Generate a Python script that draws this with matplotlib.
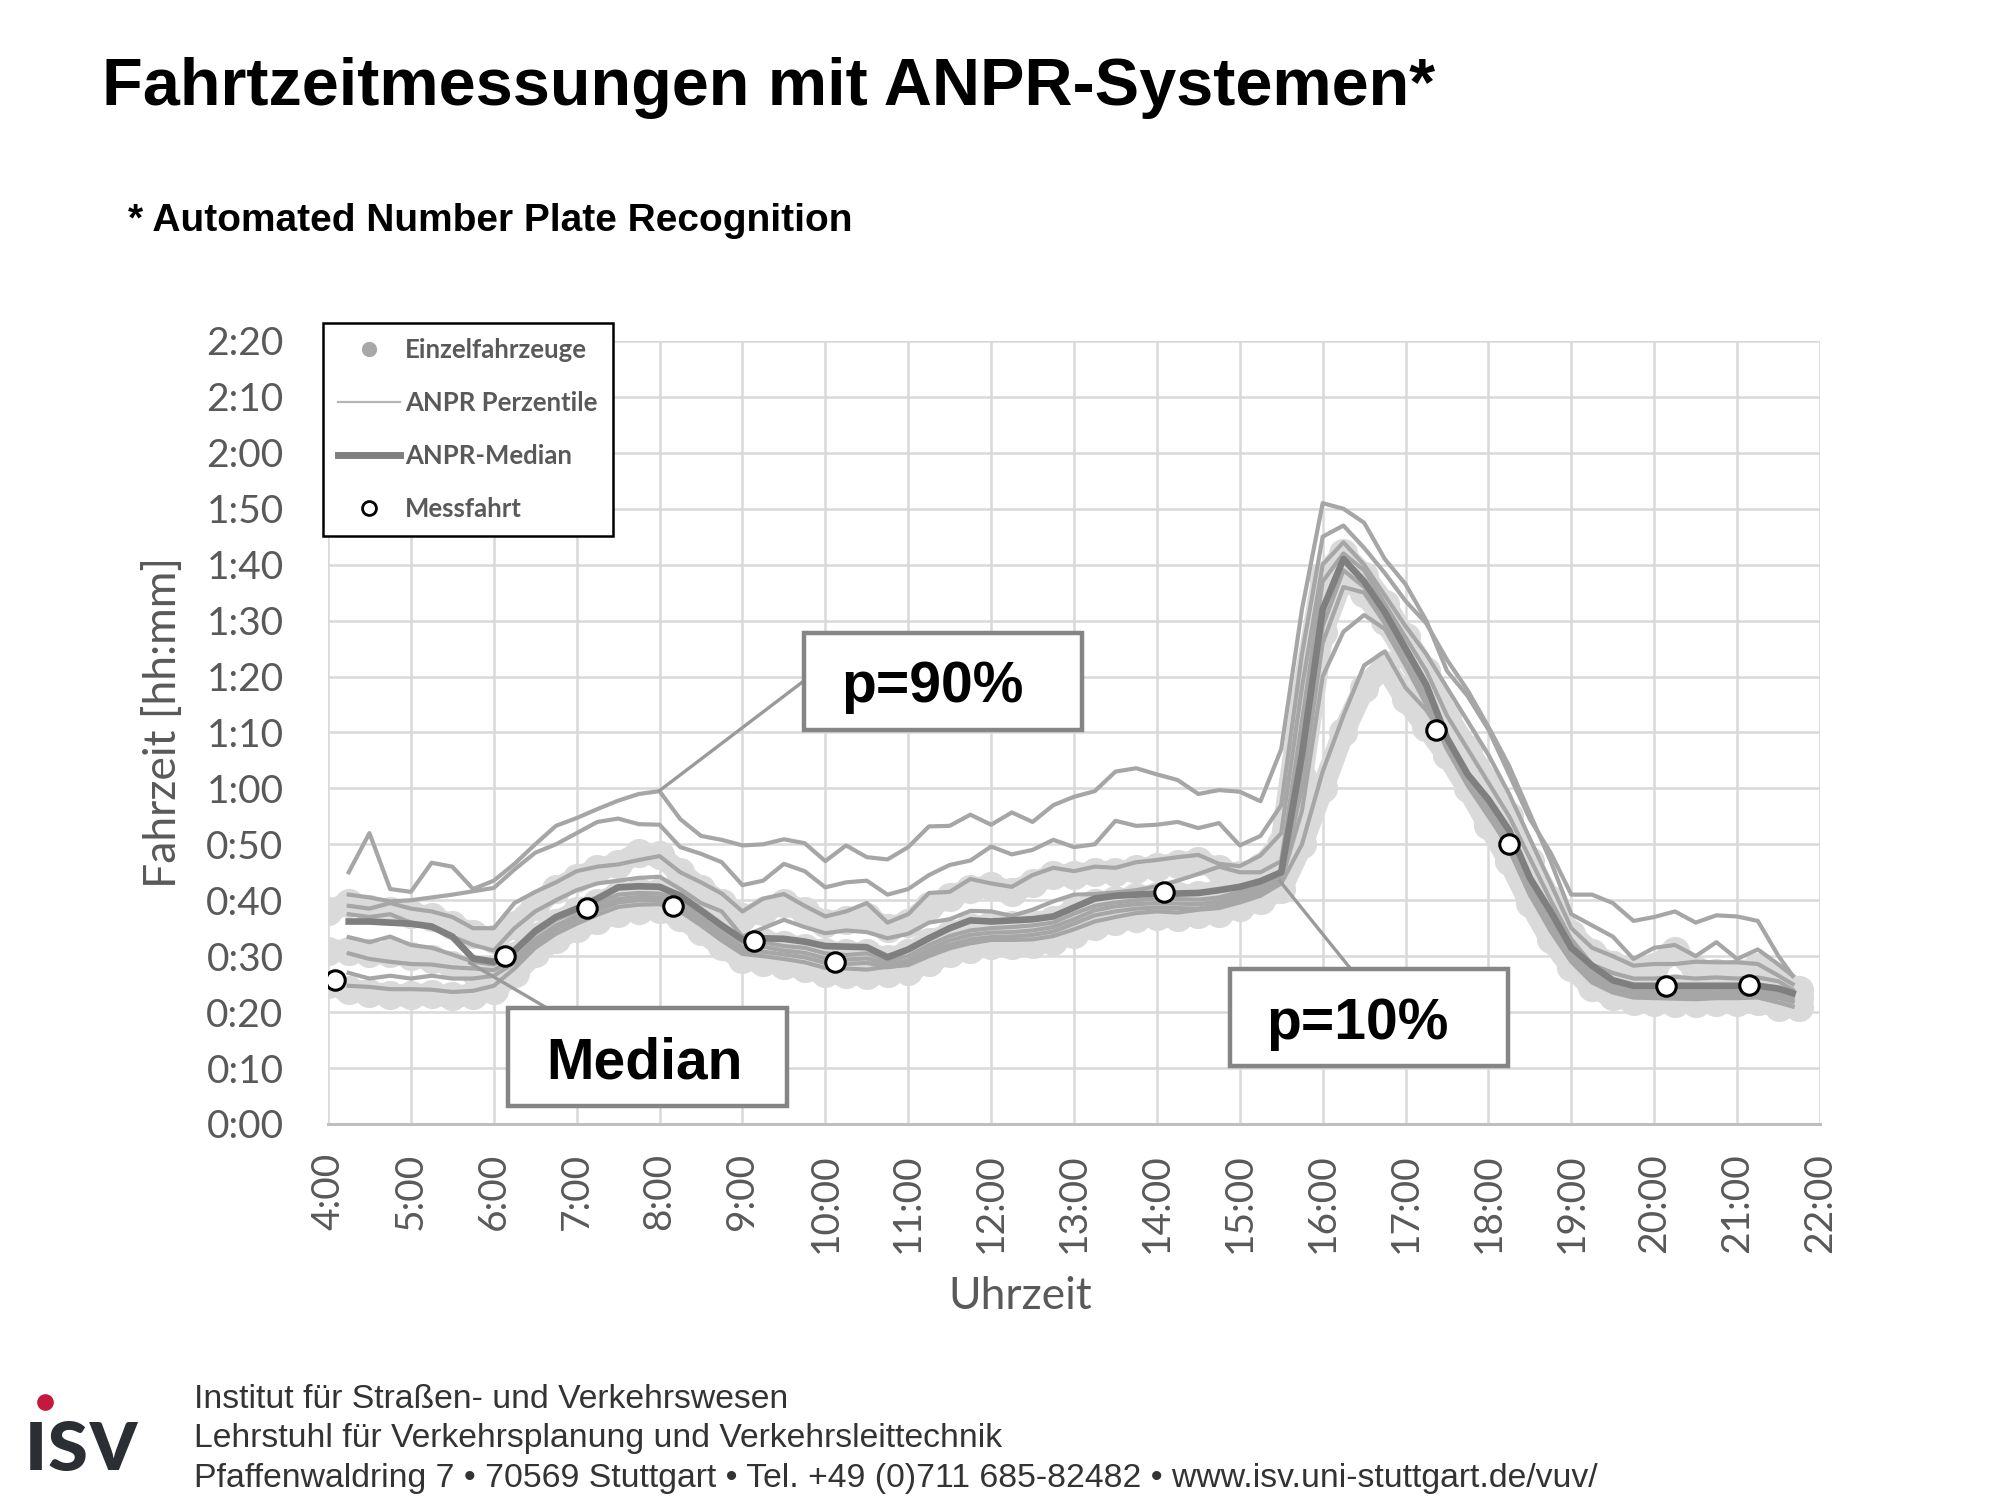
import numpy as np
import matplotlib
matplotlib.use("Agg")
import matplotlib.pyplot as plt
from matplotlib.lines import Line2D
from matplotlib.patches import Rectangle

# Zeitraster der ANPR-Auswertung (Stunden): 4:15 .. 21:30 alle 15 min, Endpunkt 21:40
zeit = np.append(np.arange(4.25, 21.51, 0.25), 21.67)

# Fahrzeiten in Minuten
p90 = [45, 52, 42, 41.5, 46.7, 46, 42, 43.5, 46.5, 50,
       53.3, 54.7, 56.3, 57.8, 59, 59.5, 54.5, 51.5, 50.8, 49.8,
       50, 50.9, 50.2, 47, 49.8, 47.7, 47.3, 49.5, 53.2, 53.3,
       55.3, 53.5, 55.7, 54, 57, 58.5, 59.5, 63, 63.6, 62.5,
       61.5, 59, 59.7, 59.4, 57.7, 67, 92, 111, 110, 107.5,
       101, 96.5, 90, 81, 76.5, 70.5, 62.5, 54.5, 48.5, 41,
       41, 39.5, 36.3, 37, 38, 36, 37.3, 37.1, 36.3, 30,
       26.5]
p80 = [41, 40.5, 39.8, 40, 40.5, 41, 41.6, 42.2, 45.5, 48.5,
       50, 52, 54, 54.6, 53.6, 53.5, 49.5, 48.3, 46.8, 42.7,
       43.5, 46.5, 45.2, 42.3, 43.2, 43.5, 41, 42, 44.5, 46.3,
       47.1, 49.6, 48.2, 49, 50.8, 49.5, 50, 54.2, 53.3, 53.5,
       54, 52.9, 53.8, 49.8, 51.5, 57, 84, 105, 107, 103,
       98.5, 93.5, 89.5, 83, 77.5, 71, 64, 55.5, 47, 37.5,
       35.5, 33.5, 29.5, 31.5, 32, 30, 32.5, 29.5, 31.2, 28.5,
       26.5]
p70 = [39, 38.5, 39.5, 38.5, 38, 37, 35, 35, 39.5, 41.5,
       43.2, 45.2, 46, 46.4, 47.2, 47.9, 45, 43.2, 41.2, 38,
       40.3, 41.1, 39, 37.1, 38, 39.5, 36, 37.5, 41.3, 41.5,
       43.8, 43, 42.4, 44.5, 45.8, 45.2, 46, 45.8, 46.8, 47.2,
       47.7, 48.1, 46.5, 46.1, 48, 52, 78, 100, 104, 100,
       94.5, 89, 84, 78, 72, 66, 59, 51, 43, 35,
       31.5, 30, 28.3, 28.6, 28.6, 29, 28.9, 28.9, 28.6, 26.5,
       25]
p60 = [37.5, 37, 37.5, 36, 35, 33.5, 32, 31, 35, 38,
       40, 41.8, 43, 43.5, 44, 44.2, 42, 39.5, 38, 33.5,
       35, 36.5, 35.2, 34.1, 34.6, 34.3, 33.2, 34, 36, 36.6,
       38.1, 38, 37.2, 38.3, 39.8, 41, 41.1, 41.4, 41.8, 42.5,
       43.5, 44.7, 46, 45, 45, 47, 72, 97, 102, 99,
       93, 87, 81, 73, 67, 61, 55, 47.5, 40, 33,
       28.5, 27, 26, 26, 26.3, 26, 26.2, 26, 26.2, 25.5,
       24]
median = [36.2, 36.2, 36, 35.8, 35.3, 33.5, 29.6, 29, 31, 34.5,
          37, 38.5, 40.3, 42.3, 42.5, 42.4, 40.8, 38.2, 35.5, 33,
          33.2, 33.1, 32.6, 31.8, 31.7, 31.6, 29.8, 31.2, 33.2, 35,
          36.4, 36.2, 36.4, 36.6, 37.1, 38.7, 40.3, 40.8, 41, 41.2,
          41.2, 41.3, 41.8, 42.4, 43.4, 45, 66, 92, 101, 97,
          91.5, 85, 78.5, 69, 62.5, 58, 52.5, 44, 38, 31.5,
          28.3, 25.7, 24.7, 24.7, 24.7, 24.7, 24.7, 24.7, 24.7, 24.2,
          23.4]
p40 = [33.4, 32.5, 33.5, 32, 31.5, 30.3, 29, 28.5, 30.5, 34,
       36.5, 38, 39.5, 41, 41.3, 41.2, 40, 37.5, 34.8, 32.5,
       32.5, 31.8, 31.5, 30.5, 30.2, 30.5, 29.2, 30, 32, 33.6,
       34.6, 35, 35.2, 35.5, 36, 37.6, 39, 39.6, 40, 40.3,
       40.2, 40.1, 40.5, 41.5, 42.6, 44.5, 63, 89, 99, 96,
       90.5, 84, 77.5, 68.5, 62, 57, 51.5, 43, 37, 30.8,
       27.5, 25.3, 24.3, 24.2, 24.1, 24, 24.2, 24, 24.1, 23.5,
       22.8]
p30 = [30.5, 29.5, 29, 28.6, 28.5, 28, 27.8, 27.5, 29.5, 33,
       35.5, 37.2, 38.8, 40.2, 40.6, 40.5, 39.4, 36.8, 34, 31.6,
       31.7, 31, 30.6, 29.6, 29.4, 29.6, 28.6, 29.2, 31.2, 32.8,
       33.8, 34.2, 34.3, 34.6, 35.2, 36.6, 38.2, 38.9, 39.3, 39.5,
       39.4, 39.3, 39.8, 40.8, 42, 44, 60, 86, 96, 95,
       89.5, 82.5, 76.5, 68, 61.5, 56, 50.5, 42, 36, 30,
       26.8, 24.8, 23.8, 23.7, 23.5, 23.4, 23.5, 23.4, 23.4, 23,
       22.3]
p20 = [27, 26, 26.5, 26, 26.5, 26, 26, 26.5, 28.8, 32.2,
       34.8, 36.6, 38.2, 39.6, 40, 40, 38.8, 36.2, 33.4, 31,
       30.8, 30.3, 29.8, 28.8, 28.6, 28.8, 28, 28.6, 30.5, 32,
       33, 33.4, 33.5, 33.8, 34.4, 35.8, 37.3, 38, 38.5, 38.7,
       38.6, 38.5, 39.2, 40.2, 41.4, 43.5, 56, 80, 88, 91,
       88.5, 82, 75, 67, 60.5, 55, 49.5, 41, 35, 29.3,
       26, 24.2, 23.3, 23.1, 23, 22.9, 23, 22.9, 22.9, 22.5,
       21.8]
p10 = [24.7, 24.5, 24.1, 24.1, 24, 23.6, 23.8, 24.7, 27.8, 31.5,
       34, 35.8, 37.4, 38.8, 39.2, 39.3, 38, 35.5, 32.8, 30.4,
       30, 29.5, 28.9, 27.9, 27.8, 27.6, 28.1, 28.4, 30, 31.4,
       32.3, 32.9, 32.9, 33, 33.6, 34.8, 36.2, 37, 37.7, 38,
       37.8, 38.3, 38.6, 39.6, 40.8, 43, 50, 63, 73, 82,
       84.5, 78, 74, 68.5, 62, 55.5, 49, 41, 34.5, 29,
       25.3, 23.5, 22.6, 22.5, 22.4, 22.3, 22.5, 22.5, 22.6, 21.7,
       21]
perzentile = [p10, p20, p30, p40, p60, p70, p80, p90]

# Einzelfahrzeuge: 4:00 .. 21:45 alle 15 min, untere / mittlere / obere Lage
ef_zeit = np.arange(4.0, 21.76, 0.25)
ef_unten = [25, 24, 23.5, 23, 23, 23.2, 22.8, 23, 24, 27,
            30.5, 33, 35, 36.5, 37.8, 38.3, 38.5, 37, 34.5, 31.8,
            29.5, 29, 28.5, 27.8, 27, 26.8, 26.6, 27, 27.4, 29,
            30.5, 31.3, 32, 32, 32.2, 32.8, 34, 35.4, 36.2, 36.8,
            37.2, 37, 37.5, 37.8, 38.8, 40, 42, 50, 60, 70,
            78, 82, 76, 71, 66, 60, 53.5, 47, 39.5, 33,
            28, 24.5, 22.8, 22, 21.8, 21.7, 21.6, 21.8, 21.8, 21.9,
            21, 21]
ef_mitte = [31, 31, 30.5, 30.5, 30, 29.5, 28.5, 27.5, 27.5, 30,
            33.5, 36, 38, 39.5, 41, 41.5, 41.5, 40, 37.5, 34.8,
            32.5, 32.5, 32, 31.5, 30.8, 30.5, 30.5, 29.5, 30.5, 32.5,
            34, 35.2, 35.5, 35.6, 35.8, 36.5, 38, 39.5, 40, 40.5,
            40.8, 40.8, 41, 41.5, 42, 43, 45, 62, 88, 98,
            95, 90, 84, 77.5, 68.5, 62, 57, 51.5, 43, 37,
            31, 27.5, 25.5, 24.5, 24.3, 24.3, 24.2, 24.3, 24.3, 24.3,
            23.5, 22.5]
ef_oben = [38, 39.5, 38.5, 38, 37.5, 37, 35.5, 34, 33, 35.5,
           39, 42, 44, 45.5, 46.5, 48.5, 48, 45, 42, 39.5,
           37, 38, 39.5, 38, 36, 36.5, 37, 35, 36, 39,
           40.5, 42, 42.5, 41.5, 43, 44.5, 44.5, 45, 45, 45.5,
           46, 46.5, 47, 45.5, 44.5, 46, 50, 76, 98, 102,
           98, 93, 87, 81, 73, 67, 61, 55, 47, 40,
           34, 30.5, 28.5, 27.5, 28, 31, 27.5, 27, 27, 28,
           26, 24]

# Messfahrten
mess_zeit = [4.09, 6.14, 7.13, 8.16, 9.14, 10.12, 14.08, 17.37, 18.25, 20.14, 21.14]
mess_wert = [25.8, 30.0, 38.6, 39.0, 32.7, 29.0, 41.4, 70.5, 50.0, 24.6, 24.8]

stunden = list(range(4, 23))
x_labels = [f"{h}:00" for h in stunden]
minuten = list(range(0, 141, 10))
y_labels = [f"{m // 60}:{m % 60:02d}" for m in minuten]

GRAU_TXT = "#595959"
BAND = "#dadada"

fig = plt.figure(figsize=(20, 15), dpi=100)
fig.patch.set_facecolor("white")
ax = fig.add_axes([0.164, 0.2507, 0.746, 0.522])

# Einzelfahrzeuge als helles Band aus dicht liegenden Punkten
for lage in (ef_unten, ef_mitte, ef_oben):
    ax.plot(ef_zeit, lage, color=BAND, lw=16, solid_capstyle="round", solid_joinstyle="round",
            marker="o", ms=21, mfc=BAND, mec="none", zorder=2)

for p in perzentile:
    ax.plot(zeit, p, color="#a6a6a6", lw=3.0, zorder=3)
ax.plot(zeit, median, color="#7f7f7f", lw=4.8, zorder=4)
ax.plot(mess_zeit, mess_wert, ls="none", marker="o", ms=14, mfc="white", mec="black", mew=2.2, zorder=5)

ax.set_xlim(4, 22)
ax.set_ylim(0, 140)
ax.set_xticks(stunden)
ax.set_xticklabels(x_labels, rotation=90, family="Lato", fontsize=28, color=GRAU_TXT)
ax.set_yticks(minuten)
ax.set_yticklabels(y_labels, family="Lato", fontsize=28, color=GRAU_TXT)
ax.tick_params(axis="both", length=0)
ax.tick_params(axis="y", pad=32)
ax.tick_params(axis="x", pad=21)
ax.grid(True, color="#d9d9d9", lw=1.8)
ax.set_axisbelow(True)
for s in ("top", "right", "left"):
    ax.spines[s].set_visible(False)
ax.spines["bottom"].set_color("#bfbfbf")
ax.spines["bottom"].set_linewidth(2.2)

ax.set_xlabel("Uhrzeit", family="Lato", fontsize=32, color=GRAU_TXT)
ax.xaxis.set_label_coords(0.464, -0.194)
ax.set_ylabel("Fahrzeit [hh:mm]", family="Lato", fontsize=32, color=GRAU_TXT)
ax.yaxis.set_label_coords(-0.0965, 0.513)

# Beschriftungskaesten mit Zeigerlinien (Text leicht links/unten versetzt wie im Original)
kaesten = [
    ("p=90%", 9.74, 70.5, 13.1, 87.8, (8.0, 59.6), (9.74, 79.2), -0.13),
    ("Median", 6.17, 3.2, 9.54, 20.75, (5.71, 28.8), (6.64, 20.75), -0.04),
    ("p=10%", 14.88, 10.4, 18.23, 27.7, (15.48, 43.5), (16.34, 27.7), -0.13),
]
for txt, x0, y0, x1, y1, ziel, start, dx in kaesten:
    ax.plot([ziel[0], start[0]], [ziel[1], start[1]], color="#9a9a9a", lw=2.4, zorder=6)
    ax.add_patch(Rectangle((x0, y0), x1 - x0, y1 - y0, fc="white", ec="#858585", lw=3.2, zorder=7))
    ax.text((x0 + x1) / 2 + dx, (y0 + y1) / 2 - 1.1, txt, ha="center", va="center", fontsize=41,
            fontweight="bold", family="Liberation Sans", color="black", zorder=8)

handles = [
    Line2D([], [], ls="none", marker="o", ms=11, mfc="#a8a8a8", mec="none"),
    Line2D([], [], color="#b5b5b5", lw=1.6),
    Line2D([], [], color="#7f7f7f", lw=5),
    Line2D([], [], ls="none", marker="o", ms=10, mfc="white", mec="black", mew=2),
]
labels = ["Einzelfahrzeuge", "ANPR Perzentile", "ANPR-Median", "Messfahrt"]
leg = ax.legend(handles, labels, loc="upper left", bbox_to_anchor=(-0.0034, 1.023),
                borderaxespad=0, frameon=True, fancybox=False, framealpha=1,
                edgecolor="black", handlelength=2.4, handletextpad=0.2,
                labelspacing=1.12, borderpad=0.6,
                prop={"family": "Lato", "weight": "bold", "size": 18.5})
leg.get_frame().set_linewidth(1.8)
for t in leg.get_texts():
    t.set_color(GRAU_TXT)
leg.set_zorder(10)

# Titel
fig.text(0.051, 0.93, "Fahrtzeitmessungen mit ANPR-Systemen*", family="Liberation Sans",
         fontweight="bold", fontsize=48, va="baseline", ha="left")
fig.text(0.064, 0.846, "* Automated Number Plate Recognition", family="Liberation Sans",
         fontweight="bold", fontsize=28, va="baseline", ha="left")

# Fusszeile
fuss = ["Institut f\u00fcr Stra\u00dfen- und Verkehrswesen",
        "Lehrstuhl f\u00fcr Verkehrsplanung und Verkehrsleittechnik",
        "Pfaffenwaldring 7 \u2022 70569 Stuttgart \u2022 Tel. +49 (0)711 685-82482 \u2022 www.isv.uni-stuttgart.de/vuv/"]
for zeile, yb in zip(fuss, [0.0615, 0.035, 0.0085]):
    fig.text(0.097, yb, zeile, family="Liberation Sans", fontsize=24.3, color="#333333",
             va="baseline", ha="left")

# Logo
fig.text(0.012, 0.02, "\u0131sv", family=["Lato", "DejaVu Sans"], fontsize=68, fontweight="bold",
         color="#2b2f33", va="baseline", ha="left")
fig.add_artist(Line2D([0.0225], [0.0655], marker="o", ms=11, color="#c5183d",
                      transform=fig.transFigure))

fig.savefig("out.png", dpi=100)
